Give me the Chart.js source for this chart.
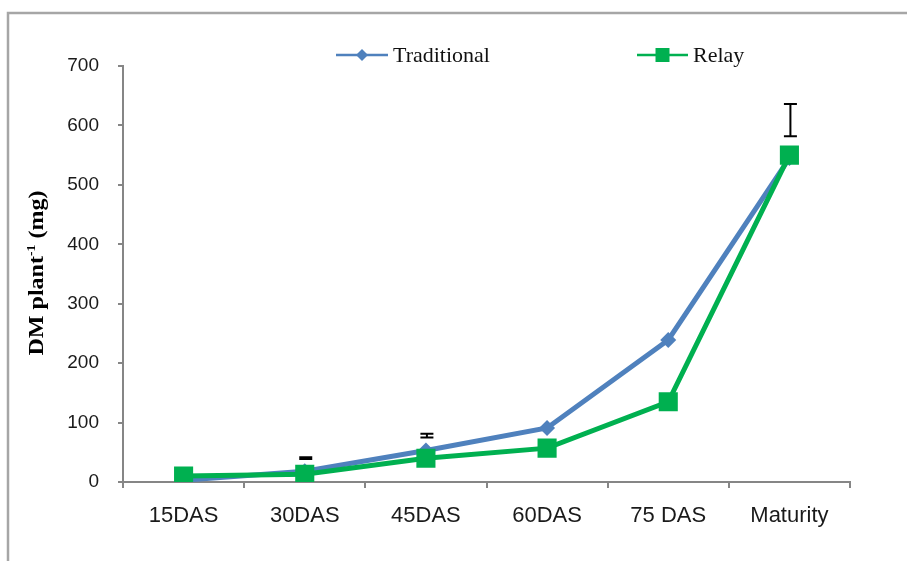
<!DOCTYPE html>
<html>
<head>
<meta charset="utf-8">
<script src="https://cdn.jsdelivr.net/npm/chart.js@4.4.1/dist/chart.umd.min.js"></script>
<style>
  html, body { margin: 0; padding: 0; background: #ffffff; overflow: hidden; }
  #wrap { width: 907px; height: 561px; position: relative; }
</style>
</head>
<body>
<div id="wrap"><canvas id="c" width="907" height="561"></canvas></div>
<script>
// Growth stages on the x axis
const categories = ['15DAS', '30DAS', '45DAS', '60DAS', '75 DAS', 'Maturity'];

// Dry matter per plant (mg)
const traditional = [3, 18, 53, 91, 239, 545];
const relay = [10, 13, 40, 57, 135, 550];

// Error bar ranges (mg); null where no bar is drawn
const errLow = [null, 38.5, 75, null, null, 582];
const errHigh = [null, 41.5, 81, null, null, 636];

// Y axis ticks
const yTicks = [0, 100, 200, 300, 400, 500, 600, 700];

const seriesNames = ['Traditional', 'Relay'];
const BLUE = '#4F81BD';
const GREEN = '#00B050';
const AXIS = '#868686';

// Outer frame of the chart object (top and left edges)
const framePlugin = {
  id: 'frame',
  beforeDraw(chart) {
    const ctx = chart.ctx;
    ctx.save();
    ctx.fillStyle = '#ffffff';
    ctx.fillRect(0, 0, chart.width, chart.height);
    ctx.strokeStyle = '#a6a6a6';
    ctx.lineWidth = 2.5;
    ctx.beginPath();
    ctx.moveTo(8, chart.height + 5);
    ctx.lineTo(8, 13);
    ctx.lineTo(chart.width + 5, 13);
    ctx.stroke();
    ctx.restore();
  }
};

// Error bars drawn from the value arrays through the scales
const errorBarPlugin = {
  id: 'errorBars',
  afterDatasetsDraw(chart) {
    const ctx = chart.ctx;
    const xs = chart.scales.x, ys = chart.scales.y;
    ctx.save();
    ctx.strokeStyle = '#000000';
    ctx.lineWidth = 2;
    for (let i = 0; i < categories.length; i++) {
      if (errLow[i] == null || errHigh[i] == null) continue;
      const x = xs.getPixelForValue(i) + 1;
      const y1 = ys.getPixelForValue(errLow[i]);
      const y2 = ys.getPixelForValue(errHigh[i]);
      const cap = 6.5;
      ctx.beginPath();
      ctx.moveTo(x, y1); ctx.lineTo(x, y2);
      ctx.moveTo(x - cap, y1); ctx.lineTo(x + cap, y1);
      ctx.moveTo(x - cap, y2); ctx.lineTo(x + cap, y2);
      ctx.stroke();
    }
    ctx.restore();
  }
};

// Legend with line + marker samples, and the rotated y-axis title
const decorPlugin = {
  id: 'decor',
  afterDraw(chart) {
    const ctx = chart.ctx;
    ctx.save();
    // legend
    const ly = 55;
    const items = [
      { name: seriesNames[0], color: BLUE, x0: 336, x1: 388, marker: 'diamond' },
      { name: seriesNames[1], color: GREEN, x0: 637, x1: 688, marker: 'square' }
    ];
    items.forEach(it => {
      ctx.strokeStyle = it.color;
      ctx.lineWidth = 2.5;
      ctx.beginPath();
      ctx.moveTo(it.x0, ly); ctx.lineTo(it.x1, ly);
      ctx.stroke();
      const cx = (it.x0 + it.x1) / 2;
      ctx.fillStyle = it.color;
      ctx.beginPath();
      if (it.marker === 'diamond') {
        const r = 6;
        ctx.moveTo(cx - r, ly); ctx.lineTo(cx, ly - r);
        ctx.lineTo(cx + r, ly); ctx.lineTo(cx, ly + r);
        ctx.closePath();
      } else {
        ctx.rect(cx - 7, ly - 7, 14, 14);
      }
      ctx.fill();
      ctx.fillStyle = '#111111';
      ctx.font = '22px "Liberation Serif", "Times New Roman", serif';
      ctx.textAlign = 'left';
      ctx.textBaseline = 'middle';
      ctx.fillText(it.name, it.x1 + 5, ly + 1);
    });

    // y-axis title: DM plant^-1 (mg)
    const main = 'bold 21px "Liberation Serif", "Times New Roman", serif';
    const sup = 'bold 12px "Liberation Serif", "Times New Roman", serif';
    const p1 = 'DM plant', p2 = '-1', p3 = ' (mg)';
    ctx.font = main; const w1 = ctx.measureText(p1).width; const w3 = ctx.measureText(p3).width;
    ctx.font = sup; const w2 = ctx.measureText(p2).width;
    const total = w1 + w2 + w3;
    const targetLen = 165;
    ctx.translate(43, 273);
    ctx.rotate(-Math.PI / 2);
    ctx.scale(targetLen / total, 1);
    ctx.fillStyle = '#000000';
    ctx.textAlign = 'left';
    ctx.textBaseline = 'alphabetic';
    let x = -total / 2;
    ctx.font = main; ctx.fillText(p1, x, 0); x += w1;
    ctx.font = sup; ctx.fillText(p2, x, -8); x += w2;
    ctx.font = main; ctx.fillText(p3, x, 0);
    ctx.restore();
  }
};

new Chart(document.getElementById('c'), {
  type: 'line',
  data: {
    labels: categories,
    datasets: [
      {
        label: seriesNames[0],
        data: traditional,
        borderColor: BLUE,
        backgroundColor: BLUE,
        borderWidth: 5,
        pointStyle: 'rectRot',
        pointRadius: 8,
        pointBorderWidth: 0,
        tension: 0,
        order: 2
      },
      {
        label: seriesNames[1],
        data: relay,
        borderColor: GREEN,
        backgroundColor: GREEN,
        borderWidth: 5,
        pointStyle: 'rect',
        pointRadius: 13.5,
        pointBorderWidth: 0,
        tension: 0,
        order: 1
      }
    ]
  },
  options: {
    responsive: false,
    animation: false,
    devicePixelRatio: 1,
    layout: { padding: { left: 0, top: 66, right: 57, bottom: 0 } },
    plugins: { legend: { display: false }, tooltip: { enabled: false } },
    scales: {
      x: {
        type: 'category',
        offset: true,
        afterFit(scale) { scale.height = 79; },
        border: { display: true, color: AXIS, width: 2 },
        grid: { display: true, offset: true, drawOnChartArea: false, drawTicks: true, tickLength: 6, color: AXIS, lineWidth: 2 },
        ticks: {
          color: '#1a1a1a',
          padding: 15,
          maxRotation: 0,
          autoSkip: false,
          font: { family: '"Liberation Sans", Arial, sans-serif', size: 22 }
        }
      },
      y: {
        min: yTicks[0],
        max: yTicks[yTicks.length - 1],
        afterFit(scale) { scale.width = 123; },
        afterBuildTicks(scale) { scale.ticks = yTicks.map(v => ({ value: v })); },
        border: { display: true, color: AXIS, width: 2 },
        grid: { display: true, drawOnChartArea: false, drawTicks: true, tickLength: 5, color: AXIS, lineWidth: 2 },
        ticks: {
          color: '#1a1a1a',
          padding: 19,
          font: { family: '"Liberation Sans", Arial, sans-serif', size: 19 }
        }
      }
    }
  },
  plugins: [framePlugin, errorBarPlugin, decorPlugin]
});
</script>
</body>
</html>
